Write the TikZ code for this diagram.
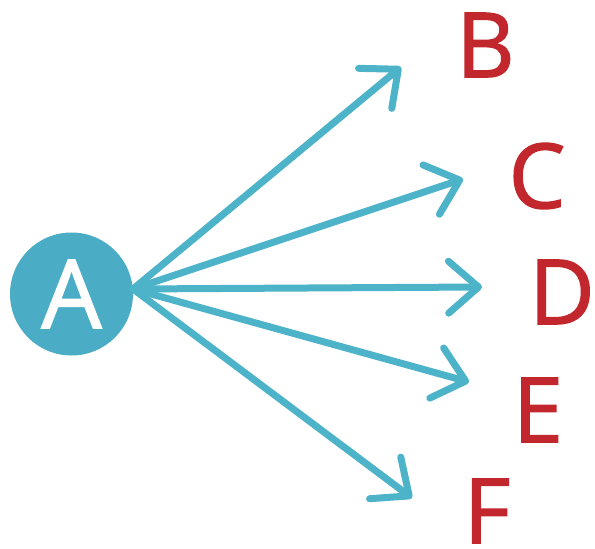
\documentclass[tikz,border=0pt]{standalone}
\usepackage{fontspec}
\setmainfont{Open Sans}
\newfontfamily\letterfont{Open Sans}[FakeBold=1.5]
\usetikzlibrary{arrows.meta}
\definecolor{hubteal}{HTML}{4AACC5}
\definecolor{arrowteal}{HTML}{4DB3C8}
\definecolor{labelred}{HTML}{C1272D}
\tikzset{
    hub/.style = {circle, fill=hubteal, text=white, minimum size=123pt, inner sep=0pt, font=\letterfont\fontsize{95}{95}\selectfont},
    leaf/.style = {text=labelred, inner sep=0pt, font=\letterfont\fontsize{90}{90}\selectfont},
    arrow/.style = {draw=arrowteal, line width=7pt, line cap=round, -{Straight Barb[round, length=30pt, width=52pt]}}
}
\begin{document}
\begin{tikzpicture}[x=1pt, y=-1pt]
\useasboundingbox (0,0) rectangle (595,549);

\node (A) [hub] at (71.5,294) {A};

% Labels
\node (B) [leaf] at (485.5,45) {B};
\node (C) [leaf] at (537,176) {C};
\node (D) [leaf] at (562,292) {D};
\node (E) [leaf] at (538,410) {E};
\node (F) [leaf] at (487,511) {F};

% Arrow tips
\coordinate (src) at (133,289);
\coordinate (tipB) at (401,67);
\coordinate (tipC) at (463,179);
\coordinate (tipD) at (482,287);
\coordinate (tipE) at (469,382);
\coordinate (tipF) at (412,498);

\foreach \t in {B,C,D,E,F}
    \draw [arrow] (src) -- (tip\t);

\end{tikzpicture}
\end{document}
